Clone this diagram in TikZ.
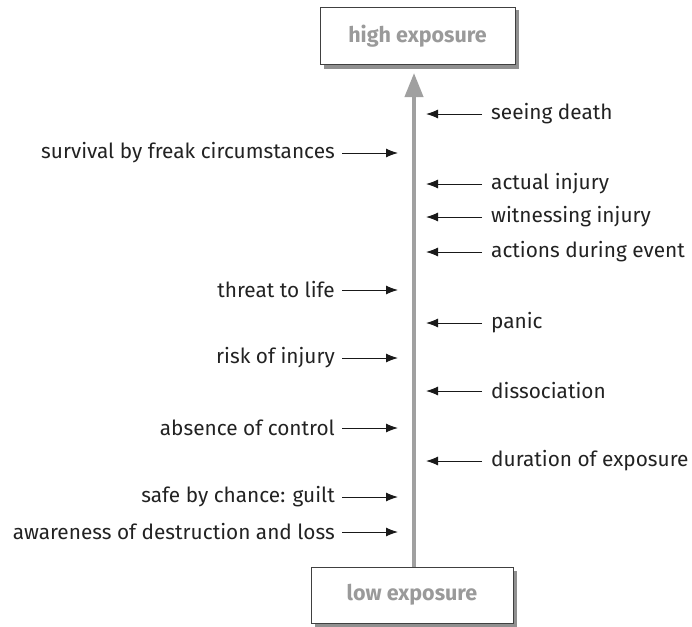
\documentclass[tikz,border=0pt]{standalone}
\usepackage{fontspec}
\setmainfont{Fira Sans}
\usetikzlibrary{arrows.meta}
\definecolor{txt}{HTML}{222222}
\definecolor{boxtxt}{HTML}{9A9A9A}
\definecolor{axis}{HTML}{A0A0A0}
\definecolor{shadow}{HTML}{909090}
\begin{document}
\begin{tikzpicture}[x=1pt,y=-1pt,
  lbl/.style={font=\fontsize{20.8}{23}\selectfont, text=txt, inner sep=0pt},
  endbox/.style={draw=black!75, fill=white, line width=0.8pt,
    font=\fontsize{21.5}{24}\selectfont\bfseries, text=boxtxt, minimum height=57pt},
  ptr/.style={-{Latex[length=12pt,width=9pt]}, line width=1pt, black!90}]
\useasboundingbox (0,0) rectangle (692,626);
% end boxes with drop shadows
\fill[shadow] (324,10) rectangle (519,69);
\node[endbox, minimum width=195pt] (high) at (417.5,36) {high exposure};
\fill[shadow] (315,571) rectangle (517,627);
\node[endbox, minimum width=202pt, minimum height=56pt] (low) at (412,595) {low exposure};
% exposure axis
\draw[axis, line width=4pt, -{Triangle[length=24pt,width=18pt]}] (low.north -| 414,0) -- (414,73) coordinate (tip);
% right-hand factors
\foreach \n/\y/\t in {sd/114/seeing death, ai/184/actual injury, wi/217/witnessing injury,
    ad/252/actions during event, pa/323/panic, di/391/dissociation, du/461/duration of exposure}{
  \node[lbl, anchor=west] (\n) at (491,\y) {\t};
  \coordinate (\n e) at (426,\y);
  \draw[ptr] ([xshift=-9pt]\n.west) -- (\n e);
}
% left-hand factors
\foreach \n/\y/\t in {sf/153/survival by freak circumstances, tl/290/threat to life,
    ri/358/risk of injury, ac/428/absence of control, sc/497/safe by chance: guilt,
    aw/532/awareness of destruction and loss}{
  \node[lbl, anchor=east] (\n) at (335,\y) {\t};
  \coordinate (\n e) at (398,\y);
  \draw[ptr] ([xshift=7pt]\n.east) -- (\n e);
}
\end{tikzpicture}
\end{document}
